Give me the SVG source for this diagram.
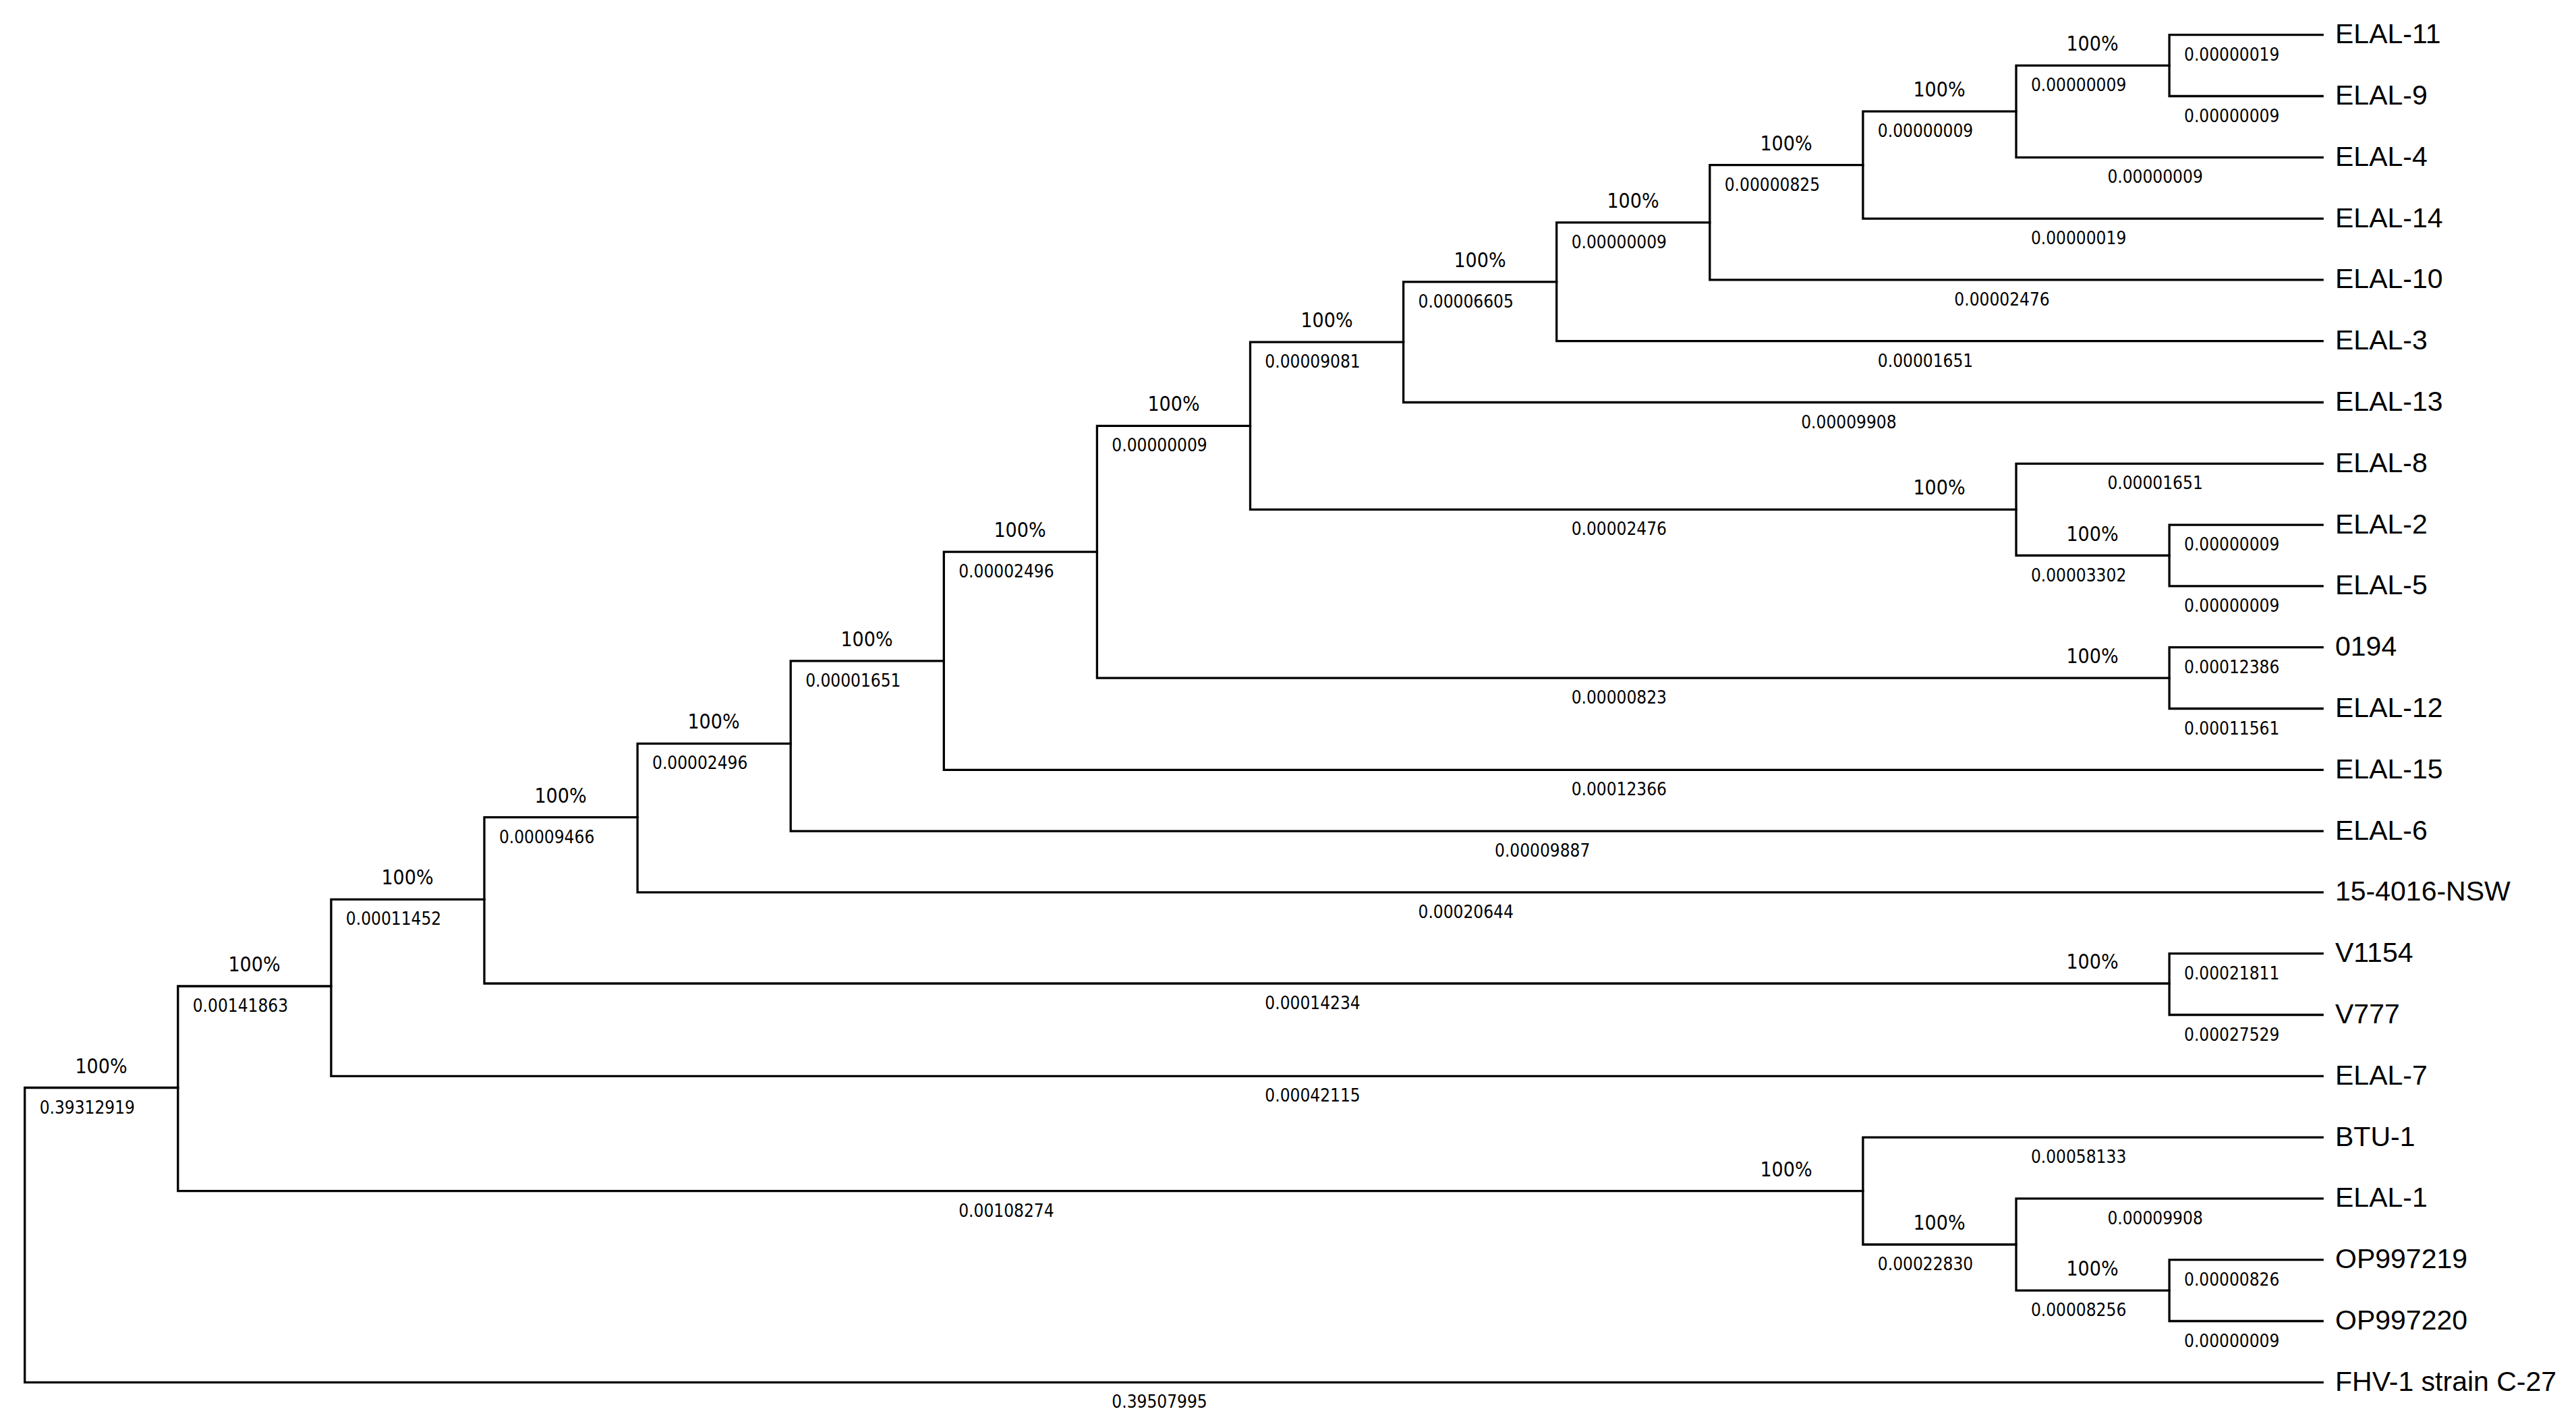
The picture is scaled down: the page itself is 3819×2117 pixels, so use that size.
<svg xmlns="http://www.w3.org/2000/svg" width="3819" height="2117" viewBox="0 0 3819 2117">
<style>
.br{fill:none;stroke:#000;stroke-width:3.3;stroke-linejoin:miter;stroke-linecap:square}
.leaf{font-family:"Liberation Sans",Arial,sans-serif;font-size:41px;fill:#000}
.bs{font-family:"DejaVu Sans Condensed","DejaVu Sans",sans-serif;font-stretch:condensed;font-size:30px;fill:#000;text-anchor:middle}
.bl{font-family:"DejaVu Sans Condensed","DejaVu Sans",sans-serif;font-stretch:condensed;font-size:26px;fill:#000;text-anchor:middle}
</style>
<rect width="3819" height="2117" fill="#fff"/>
<g id="connectors">
<path class="br" d="M263.8 1612.5 H36.7 V2049.3 H3443.2"/>
<path class="br" d="M490.9 1462 H263.8 V1765.6 H2761.9"/>
<path class="br" d="M718 1333.3 H490.9 V1595.3 H3443.2"/>
<path class="br" d="M945.1 1211.7 H718 V1458 H3216.1"/>
<path class="br" d="M1172.2 1102.3 H945.1 V1322.9 H3443.2"/>
<path class="br" d="M1399.3 979.8 H1172.2 V1232.1 H3443.2"/>
<path class="br" d="M1626.4 818.2 H1399.3 V1141.3 H3443.2"/>
<path class="br" d="M1853.5 631.3 H1626.4 V1005.1 H3216.1"/>
<path class="br" d="M2080.6 507.1 H1853.5 V755.4 H2989"/>
<path class="br" d="M2307.7 417.8 H2080.6 V596.5 H3443.2"/>
<path class="br" d="M2534.8 329.8 H2307.7 V505.7 H3443.2"/>
<path class="br" d="M2761.9 244.7 H2534.8 V414.9 H3443.2"/>
<path class="br" d="M2989 165.2 H2761.9 V324.1 H3443.2"/>
<path class="br" d="M3216.1 97.1 H2989 V233.3 H3443.2"/>
<path class="br" d="M3443.2 51.7 H3216.1 V142.5 H3443.2"/>
<path class="br" d="M3443.2 687.3 H2989 V823.5 H3216.1"/>
<path class="br" d="M3443.2 778.1 H3216.1 V868.9 H3443.2"/>
<path class="br" d="M3443.2 959.7 H3216.1 V1050.5 H3443.2"/>
<path class="br" d="M3443.2 1413.7 H3216.1 V1504.5 H3443.2"/>
<path class="br" d="M3443.2 1686.1 H2761.9 V1845 H2989"/>
<path class="br" d="M3443.2 1776.9 H2989 V1913.1 H3216.1"/>
<path class="br" d="M3443.2 1867.7 H3216.1 V1958.5 H3443.2"/>
</g>
<g id="branch-lengths">
<text class="bl" x="129.3" y="1650.5">0.39312919</text>
<text class="bl" x="1719" y="2087.3">0.39507995</text>
<text class="bl" x="356.4" y="1500">0.00141863</text>
<text class="bl" x="1491.9" y="1803.6">0.00108274</text>
<text class="bl" x="583.5" y="1371.3">0.00011452</text>
<text class="bl" x="1946" y="1633.3">0.00042115</text>
<text class="bl" x="810.6" y="1249.7">0.00009466</text>
<text class="bl" x="1946" y="1496">0.00014234</text>
<text class="bl" x="1037.7" y="1140.3">0.00002496</text>
<text class="bl" x="2173.2" y="1360.9">0.00020644</text>
<text class="bl" x="1264.8" y="1017.8">0.00001651</text>
<text class="bl" x="2286.7" y="1270.1">0.00009887</text>
<text class="bl" x="1491.9" y="856.2">0.00002496</text>
<text class="bl" x="2400.3" y="1179.3">0.00012366</text>
<text class="bl" x="1719" y="669.3">0.00000009</text>
<text class="bl" x="2400.3" y="1043.1">0.00000823</text>
<text class="bl" x="1946" y="545.1">0.00009081</text>
<text class="bl" x="2400.3" y="793.4">0.00002476</text>
<text class="bl" x="2173.2" y="455.8">0.00006605</text>
<text class="bl" x="2740.9" y="634.5">0.00009908</text>
<text class="bl" x="2400.3" y="367.8">0.00000009</text>
<text class="bl" x="2854.5" y="543.7">0.00001651</text>
<text class="bl" x="2627.4" y="282.7">0.00000825</text>
<text class="bl" x="2968" y="452.9">0.00002476</text>
<text class="bl" x="2854.5" y="203.2">0.00000009</text>
<text class="bl" x="3081.6" y="362.1">0.00000019</text>
<text class="bl" x="3081.6" y="135.1">0.00000009</text>
<text class="bl" x="3195.1" y="271.3">0.00000009</text>
<text class="bl" x="3308.7" y="89.7">0.00000019</text>
<text class="bl" x="3308.7" y="180.5">0.00000009</text>
<text class="bl" x="3195.1" y="725.3">0.00001651</text>
<text class="bl" x="3081.6" y="861.5">0.00003302</text>
<text class="bl" x="3308.7" y="816.1">0.00000009</text>
<text class="bl" x="3308.7" y="906.9">0.00000009</text>
<text class="bl" x="3308.7" y="997.7">0.00012386</text>
<text class="bl" x="3308.7" y="1088.5">0.00011561</text>
<text class="bl" x="3308.7" y="1451.7">0.00021811</text>
<text class="bl" x="3308.7" y="1542.5">0.00027529</text>
<text class="bl" x="3081.6" y="1724.1">0.00058133</text>
<text class="bl" x="2854.5" y="1883">0.00022830</text>
<text class="bl" x="3195.1" y="1814.9">0.00009908</text>
<text class="bl" x="3081.6" y="1951.1">0.00008256</text>
<text class="bl" x="3308.7" y="1905.7">0.00000826</text>
<text class="bl" x="3308.7" y="1996.5">0.00000009</text>
</g>
<g id="node-N1"><text class="bs" x="150" y="1590.5">100%</text></g>
<g id="node-N2"><text class="bs" x="377" y="1440">100%</text></g>
<g id="node-N3"><text class="bs" x="604" y="1311.3">100%</text></g>
<g id="node-N4"><text class="bs" x="831" y="1189.7">100%</text></g>
<g id="node-N5"><text class="bs" x="1058" y="1080.3">100%</text></g>
<g id="node-N6"><text class="bs" x="1285" y="957.8">100%</text></g>
<g id="node-N7"><text class="bs" x="1512" y="796.2">100%</text></g>
<g id="node-N8"><text class="bs" x="1740" y="609.3">100%</text></g>
<g id="node-N9"><text class="bs" x="1967" y="485.1">100%</text></g>
<g id="node-N10"><text class="bs" x="2194" y="395.8">100%</text></g>
<g id="node-N11"><text class="bs" x="2421" y="307.8">100%</text></g>
<g id="node-N12"><text class="bs" x="2648" y="222.7">100%</text></g>
<g id="node-N13"><text class="bs" x="2875" y="143.2">100%</text></g>
<g id="node-N14"><text class="bs" x="3102" y="75.1">100%</text></g>
<g id="node-N82"><text class="bs" x="2875" y="733.4">100%</text></g>
<g id="node-N25"><text class="bs" x="3102" y="801.5">100%</text></g>
<g id="node-N0194"><text class="bs" x="3102" y="983.1">100%</text></g>
<g id="node-NV"><text class="bs" x="3102" y="1436">100%</text></g>
<g id="node-NB"><text class="bs" x="2648" y="1743.6">100%</text></g>
<g id="node-NE"><text class="bs" x="2875" y="1823">100%</text></g>
<g id="node-NOP"><text class="bs" x="3102" y="1891.1">100%</text></g>
<g id="leaf-ELAL-11"><text class="leaf" x="3462" y="64.2">ELAL-11</text></g>
<g id="leaf-ELAL-9"><text class="leaf" x="3462" y="155">ELAL-9</text></g>
<g id="leaf-ELAL-4"><text class="leaf" x="3462" y="245.8">ELAL-4</text></g>
<g id="leaf-ELAL-14"><text class="leaf" x="3462" y="336.6">ELAL-14</text></g>
<g id="leaf-ELAL-10"><text class="leaf" x="3462" y="427.4">ELAL-10</text></g>
<g id="leaf-ELAL-3"><text class="leaf" x="3462" y="518.2">ELAL-3</text></g>
<g id="leaf-ELAL-13"><text class="leaf" x="3462" y="609">ELAL-13</text></g>
<g id="leaf-ELAL-8"><text class="leaf" x="3462" y="699.8">ELAL-8</text></g>
<g id="leaf-ELAL-2"><text class="leaf" x="3462" y="790.6">ELAL-2</text></g>
<g id="leaf-ELAL-5"><text class="leaf" x="3462" y="881.4">ELAL-5</text></g>
<g id="leaf-0194"><text class="leaf" x="3462" y="972.2">0194</text></g>
<g id="leaf-ELAL-12"><text class="leaf" x="3462" y="1063">ELAL-12</text></g>
<g id="leaf-ELAL-15"><text class="leaf" x="3462" y="1153.8">ELAL-15</text></g>
<g id="leaf-ELAL-6"><text class="leaf" x="3462" y="1244.6">ELAL-6</text></g>
<g id="leaf-15-4016-NSW"><text class="leaf" x="3462" y="1335.4">15-4016-NSW</text></g>
<g id="leaf-V1154"><text class="leaf" x="3462" y="1426.2">V1154</text></g>
<g id="leaf-V777"><text class="leaf" x="3462" y="1517">V777</text></g>
<g id="leaf-ELAL-7"><text class="leaf" x="3462" y="1607.8">ELAL-7</text></g>
<g id="leaf-BTU-1"><text class="leaf" x="3462" y="1698.6">BTU-1</text></g>
<g id="leaf-ELAL-1"><text class="leaf" x="3462" y="1789.4">ELAL-1</text></g>
<g id="leaf-OP997219"><text class="leaf" x="3462" y="1880.2">OP997219</text></g>
<g id="leaf-OP997220"><text class="leaf" x="3462" y="1971">OP997220</text></g>
<g id="leaf-FHV-1"><text class="leaf" x="3462" y="2061.8">FHV-1 strain C-27</text></g>
</svg>
